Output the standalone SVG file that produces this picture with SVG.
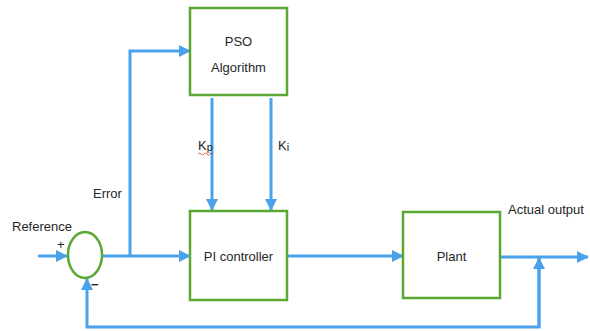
<svg xmlns="http://www.w3.org/2000/svg" width="590" height="331" viewBox="0 0 590 331">
  <style>
    .box { fill: #ffffff; stroke: #5aa832; stroke-width: 2.5; }
    .wire { fill: none; stroke: #4aa3ea; stroke-width: 3; }
    .lbl { font-family: "Liberation Sans", Arial, sans-serif; font-size: 13px; fill: #262626; }
    .mid { text-anchor: middle; }
  </style>
  <defs>
    <marker id="arrow" markerUnits="userSpaceOnUse" markerWidth="12" markerHeight="12" viewBox="0 0 12 12" refX="11" refY="6" orient="auto">
      <path d="M0,0 L12,6 L0,12 Z" fill="#4aa3ea"/>
    </marker>
  </defs>
  <rect width="590" height="331" fill="#ffffff"/>

  <!-- signal wires -->
  <g id="connectors">
    <path class="wire" d="M38,256 H67" marker-end="url(#arrow)"/>
    <path class="wire" d="M103,256 H190" marker-end="url(#arrow)"/>
    <path class="wire" d="M130,256 V51 H190" marker-end="url(#arrow)"/>
    <path class="wire" d="M212,98 V210" marker-end="url(#arrow)"/>
    <path class="wire" d="M271,98 V210" marker-end="url(#arrow)"/>
    <path class="wire" d="M287,256 H403" marker-end="url(#arrow)"/>
    <path class="wire" d="M500,257 H588" marker-end="url(#arrow)"/>
    <path class="wire" d="M539,257 V327 H87 V279" marker-end="url(#arrow)"/>
    <path class="wire" d="M539,328 V258" marker-end="url(#arrow)"/>
  </g>

  <!-- summing junction -->
  <g id="sum">
    <ellipse cx="85" cy="255" rx="17" ry="23" fill="#ffffff" stroke="#5aa832" stroke-width="2.5"/>
    <text class="lbl" x="12" y="231">Reference</text>
    <text class="lbl" x="57" y="249">+</text>
    <text class="lbl" x="91" y="289" font-weight="bold">−</text>
  </g>

  <g id="error-label">
    <text class="lbl" x="93" y="198">Error</text>
  </g>

  <g id="pso">
    <rect class="box" x="190" y="8" width="97" height="87"/>
    <text class="lbl mid" x="238.5" y="46">PSO</text>
    <text class="lbl mid" x="238.5" y="72">Algorithm</text>
  </g>

  <g id="gains">
    <text class="lbl" x="198" y="150">K<tspan font-size="11" dy="1">p</tspan></text>
    <path d="M198,154 q1.5,-2 3,0 t3,0 t3,0 t3,0 t3,0" fill="none" stroke="#e03030" stroke-width="0.8"/>
    <text class="lbl" x="278" y="150">K<tspan font-size="11" dy="1">i</tspan></text>
  </g>

  <g id="pi-controller">
    <rect class="box" x="190" y="211" width="97" height="89"/>
    <text class="lbl mid" x="238.5" y="261">PI controller</text>
  </g>

  <g id="plant">
    <rect class="box" x="403" y="212" width="97" height="86"/>
    <text class="lbl mid" x="451.5" y="261">Plant</text>
  </g>

  <g id="output-label">
    <text class="lbl" x="508" y="214">Actual output</text>
  </g>
</svg>
